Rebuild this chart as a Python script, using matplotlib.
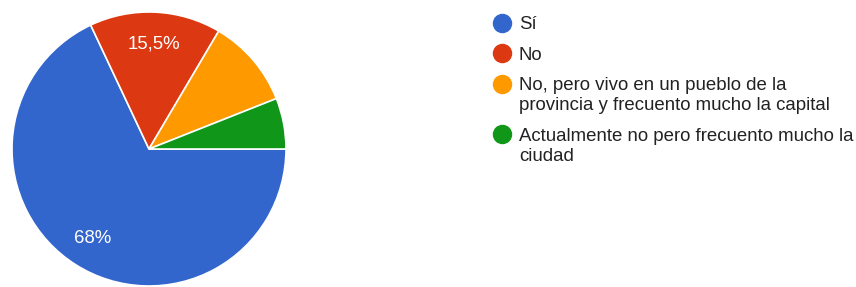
import matplotlib
matplotlib.use("Agg")
import matplotlib.pyplot as plt

plt.rcParams["font.family"] = ["Liberation Sans", "DejaVu Sans"]

# data
labels = ["Sí", "No", "No, pero vivo en un pueblo de la\nprovincia y frecuento mucho la capital",
          "Actualmente no pero frecuento mucho la\nciudad"]
shares = [68, 15.5, 10.5, 6]
colors = ["#3366CC", "#DC3912", "#FF9900", "#109618"]

W, H = 856, 287
fig = plt.figure(figsize=(W / 100, H / 100), dpi=100)

# pie axes: centre ~(149,149) px, radius ~137 px
cx, cy, r = 149, 149, 137
ax = fig.add_axes([(cx - r) / W, (H - cy - r) / H, 2 * r / W, 2 * r / H])


def fmt(p):
    if p < 12:
        return ""
    return f"{p:.1f}".rstrip("0").rstrip(".").replace(".", ",") + "%"


wedges, texts, autotexts = ax.pie(
    shares, colors=colors, startangle=0, counterclock=False,
    autopct=fmt, pctdistance=0.77, radius=1,
    wedgeprops=dict(edgecolor="white", linewidth=1.2),
    textprops=dict(color="white", fontsize=13.4),
)
ax.set_xlim(-1, 1)
ax.set_ylim(-1, 1)
ax.set_aspect("equal")
ax.axis("off")

# legend drawn in pixel coordinates (marker aligned with first text line)
lax = fig.add_axes([0, 0, 1, 1])
lax.set_xlim(0, W)
lax.set_ylim(H, 0)
lax.axis("off")
line_h = 19.8
y = 22.5
for lab, c in zip(labels, colors):
    lax.plot([502], [y], marker="o", markersize=13, color=c, linestyle="")
    for i, part in enumerate(lab.split("\n")):
        lax.text(519, y + 6.8 + i * line_h, part, fontsize=13.4,
                 color="#222222", va="baseline", ha="left")
    y += 30.6 + line_h * lab.count("\n")

fig.savefig("out.png", dpi=100)
